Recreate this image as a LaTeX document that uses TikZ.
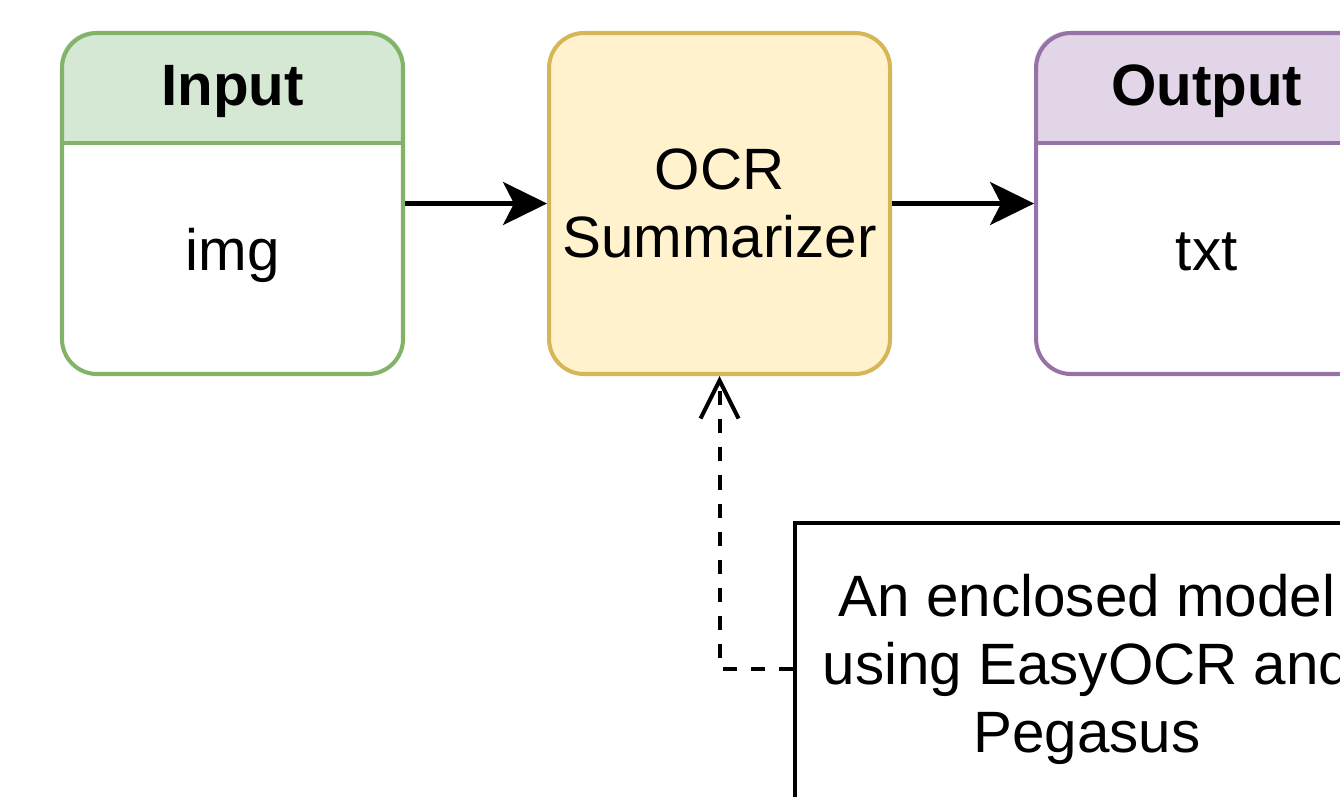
\documentclass[tikz,border=0pt]{standalone}
\usepackage{fontspec}
\setmainfont{Liberation Sans}
\usetikzlibrary{calc}
\usetikzlibrary{positioning}
\usetikzlibrary{arrows.meta,backgrounds}

\definecolor{inFill}{HTML}{D5E8D4}
\definecolor{inDraw}{HTML}{82B366}
\definecolor{ocrFill}{HTML}{FFF2CC}
\definecolor{ocrDraw}{HTML}{D6B656}
\definecolor{outFill}{HTML}{E1D5E7}
\definecolor{outDraw}{HTML}{9673A6}

\tikzset{
  box/.style={draw, line width=2.3pt, rounded corners=0.7cm, minimum width=6.82cm, minimum height=6.82cm, inner sep=0pt},
  big/.style={font=\fontsize{33.2}{38.7}\selectfont, align=center},
  head/.style={font=\fontsize{33.2}{38.7}\selectfont\bfseries, anchor=base},
  flow/.style={line width=2.3pt, -{Stealth[length=0.88cm,width=0.86cm,inset=0.22cm]}},
  uses/.style={line width=2.3pt, dash pattern=on 8pt off 8pt, -{Straight Barb[length=0.76cm,width=0.76cm]}},
}

\begin{document}
\begin{tikzpicture}[node distance=2.84cm]
  \useasboundingbox (0,0) rectangle (26.8,-15.92);

  \node[box, draw=inDraw] (in) at (4.65,-4.07) {};
  \node[box, draw=ocrDraw, fill=ocrFill, big, right=of in] (ocr) {OCR\\Summarizer};
  \node[box, draw=outDraw, right=of ocr] (out) {};

  % header bands
  \begin{scope}[on background layer]
    \fill[white] (0,0) rectangle (26.8,-15.92);
    \foreach \b/\c in {in/inFill,out/outFill} {
      \begin{scope}
        \clip[rounded corners=0.7cm] (\b.north west) rectangle (\b.south east);
        \fill[\c] (\b.north west) rectangle ([yshift=-2.24cm]\b.north east);
      \end{scope}
    }
  \end{scope}
  \draw[inDraw, line width=2.3pt] ([yshift=-2.24cm]in.north west) -- ([yshift=-2.24cm]in.north east);
  \draw[outDraw, line width=2.3pt] ([yshift=-2.24cm]out.north west) -- ([yshift=-2.24cm]out.north east);

  \node[head] (inhead) at ([yshift=-1.5cm]in.north) {Input};
  \node[big, anchor=base] (intxt) at ([yshift=2.12cm]in.south) {img};
  \node[head] (outhead) at ([yshift=-1.5cm]out.north) {Output};
  \node[big, anchor=base] (outtxt) at ([yshift=2.12cm]out.south) {txt};

  \draw[flow] (in) -- (ocr);
  \draw[flow] (ocr) -- (out);

  \node[draw, line width=2.3pt, fill=white, minimum width=11.68cm, minimum height=5.84cm, big,
        below right=2.9cm and -1.98cm of ocr.south east] (model) {An enclosed model\\using EasyOCR and\\Pegasus};
  \draw[uses] (model.west) -| (ocr.south);
\end{tikzpicture}
\end{document}
